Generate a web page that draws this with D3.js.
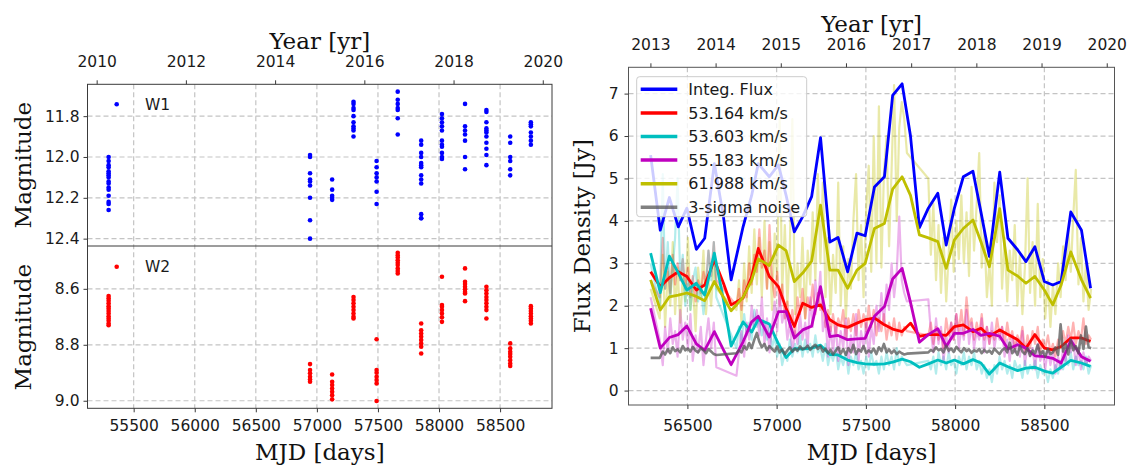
<!DOCTYPE html>
<html>
<head>
<meta charset="utf-8">
<script src="https://cdn.jsdelivr.net/npm/d3@7/dist/d3.min.js"></script>
<style>
  body { margin: 0; background: #fff; }
</style>
</head>
<body>
<div id="chart"></div>
<script>
// ---------- data: WISE photometry (left) ----------
const w1Epochs = [55295, 56944, 57125, 57300, 57489, 57662, 57854, 58024, 58213, 58388, 58583, 58752];
const w1Mags = [
  [12.00, 12.02, 12.04, 12.05, 12.07, 12.08, 12.09, 12.10, 12.12, 12.13, 12.15, 12.16, 12.19, 12.22, 12.23, 12.26],
  [11.99, 12.00, 12.08, 12.11, 12.12, 12.14, 12.20, 12.31, 12.40],
  [12.11, 12.16, 12.19, 12.20, 12.21],
  [11.73, 11.74, 11.76, 11.77, 11.80, 11.83, 11.85, 11.86, 11.87, 11.90],
  [12.02, 12.05, 12.08, 12.10, 12.12, 12.17, 12.23],
  [11.68, 11.72, 11.74, 11.76, 11.77, 11.81, 11.89],
  [11.92, 11.94, 11.98, 12.00, 12.03, 12.04, 12.05, 12.09, 12.11, 12.13, 12.28, 12.30, 12.30],
  [11.79, 11.81, 11.83, 11.85, 11.87, 11.92, 11.94, 11.95, 11.98, 12.00, 12.01],
  [11.74, 11.85, 11.87, 11.89, 11.92, 12.00, 12.06],
  [11.77, 11.78, 11.83, 11.86, 11.87, 11.88, 11.90, 11.93, 11.96, 11.99, 12.04],
  [11.90, 11.93, 12.00, 12.02, 12.06, 12.09],
  [11.83, 11.84, 11.85, 11.88, 11.90, 11.92, 11.94]
];
const w2Mags = [
  [8.626, 8.634, 8.643, 8.652, 8.662, 8.670, 8.679, 8.688, 8.698, 8.706, 8.714, 8.724, 8.730],
  [8.869, 8.890, 8.902, 8.914, 8.924, 8.932],
  [8.906, 8.932, 8.944, 8.956, 8.968, 8.980, 8.995],
  [8.629, 8.640, 8.652, 8.664, 8.676, 8.688, 8.700, 8.706],
  [8.780, 8.890, 8.900, 8.914, 8.926, 8.938, 9.001],
  [8.471, 8.480, 8.488, 8.498, 8.507, 8.515, 8.527, 8.536, 8.545],
  [8.724, 8.748, 8.760, 8.771, 8.783, 8.795, 8.807, 8.831],
  [8.557, 8.658, 8.664, 8.676, 8.688, 8.702, 8.718],
  [8.527, 8.575, 8.583, 8.593, 8.602, 8.611, 8.617, 8.644],
  [8.593, 8.605, 8.617, 8.629, 8.640, 8.652, 8.664, 8.676, 8.706],
  [8.795, 8.813, 8.825, 8.833, 8.843, 8.855, 8.867, 8.876],
  [8.662, 8.670, 8.679, 8.688, 8.698, 8.706, 8.714, 8.724]
];
const w1Ticks = [11.8, 12.0, 12.2, 12.4];
const w2Ticks = [8.6, 8.8, 9.0];
const leftMjdTicks = [55500, 56000, 56500, 57000, 57500, 58000, 58500];
const leftYears = [2010, 2012, 2014, 2016, 2018, 2020];

// ---------- data: maser flux (right), binned ----------
const epochs = [56294, 56348, 56399, 56449, 56497, 56550, 56597, 56651, 56702, 56745,
  56812, 56860, 56897, 56959, 57010, 57053, 57099, 57146, 57196, 57246,
  57298, 57344, 57398, 57450, 57496, 57548, 57604, 57650, 57703, 57750,
  57800, 57850, 57903, 57950, 57996, 58046, 58100, 58145, 58192, 58250,
  58296, 58350, 58397, 58447, 58500, 58547, 58594, 58648, 58708, 58759];
const integFlux = [5.55, 3.78, 4.55, 3.86, 4.30, 3.33, 3.59, 5.35, 4.10, 2.61,
  3.86, 4.60, 5.35, 5.04, 5.32, 4.60, 3.74, 4.10, 4.57, 5.96,
  3.50, 3.61, 2.80, 3.71, 3.65, 4.80, 5.04, 6.96, 7.23, 6.00,
  3.84, 4.30, 4.65, 3.43, 4.30, 5.04, 5.17, 4.20, 3.16, 5.15,
  3.59, 3.32, 3.04, 3.39, 2.57, 2.49, 2.57, 4.21, 3.78, 2.41];
const v53164 = [2.80, 2.45, 2.66, 2.80, 2.69, 2.37, 2.49, 3.08, 2.53, 2.02,
  2.18, 2.69, 3.35, 2.69, 2.45, 1.94, 1.51, 2.06, 1.96, 2.02,
  1.67, 1.55, 1.49, 1.59, 1.67, 1.71, 1.55, 1.45, 1.39, 1.59,
  1.28, 1.32, 1.32, 1.30, 1.51, 1.55, 1.39, 1.47, 1.28, 1.43,
  1.32, 1.20, 1.00, 1.32, 1.00, 0.96, 1.04, 1.24, 1.24, 1.16];
const v53603 = [3.24, 2.31, 3.17, 2.77, 2.37, 2.53, 2.25, 3.24, 2.14, 1.05,
  1.62, 1.38, 1.68, 1.57, 1.10, 0.78, 0.99, 0.98, 1.00, 1.07,
  0.85, 0.84, 0.72, 0.66, 0.63, 0.62, 0.63, 0.67, 0.74, 0.68,
  0.55, 0.63, 0.72, 0.65, 0.72, 0.63, 0.73, 0.65, 0.39, 0.65,
  0.56, 0.47, 0.53, 0.55, 0.46, 0.41, 0.55, 0.71, 0.65, 0.57];
const v55183 = [1.94, 1.00, 1.25, 1.32, 1.52, 1.10, 0.95, 1.39, 0.96, 0.61,
  1.15, 1.62, 1.75, 1.26, 1.86, 1.86, 1.24, 1.43, 1.52, 2.45,
  1.27, 1.30, 1.20, 1.22, 1.23, 1.75, 1.98, 2.63, 2.88, 2.08,
  1.14, 1.32, 1.46, 1.04, 1.35, 1.35, 1.44, 1.30, 1.35, 1.28,
  0.98, 1.08, 1.00, 0.82, 0.80, 0.76, 0.65, 1.18, 0.80, 0.69];
const v61988 = [2.61, 1.90, 2.21, 2.25, 2.30, 2.22, 2.12, 2.57, 2.20, 1.88,
  2.20, 2.60, 3.10, 2.95, 3.43, 3.30, 2.57, 2.77, 3.05, 4.37,
  2.84, 2.84, 2.41, 2.84, 3.00, 3.82, 3.94, 4.75, 5.04, 4.60,
  3.67, 3.60, 3.51, 2.88, 3.55, 3.82, 4.02, 3.50, 2.92, 4.29,
  2.84, 2.70, 2.53, 2.69, 2.37, 2.02, 2.49, 3.27, 2.61, 2.18];

// ---------- data: maser flux (right), every observation ----------
const denseEpochs = [56294, 56345, 56362, 56375, 56390, 56404, 56418, 56431, 56445, 56460, 56474, 56488,
  56503, 56517, 56530, 56546, 56560, 56575, 56590, 56604, 56618, 56633, 56648, 56662,
  56775, 56789, 56803, 56818, 56832, 56846, 56860, 56875, 56889, 56903, 56917, 56932,
  56946, 56960, 56974, 56989, 57003, 57017, 57031, 57046, 57060, 57074, 57088, 57103,
  57117, 57131, 57145, 57160, 57174, 57188, 57202, 57217, 57231, 57245, 57259, 57274,
  57288, 57302, 57316, 57331, 57345, 57359, 57373, 57388, 57402, 57416, 57430, 57445,
  57459, 57473, 57487, 57502, 57516, 57530, 57544, 57559, 57573, 57587, 57601, 57616,
  57630, 57644, 57658, 57673, 57687, 57701, 57715, 57730,
  57850, 57864, 57878, 57893, 57907, 57921, 57935, 57950, 57964, 57978, 57992, 58007,
  58021, 58035, 58049, 58064, 58078, 58092, 58106, 58121, 58135, 58149, 58163, 58178,
  58192, 58206, 58220, 58235, 58249, 58263, 58277, 58292, 58306, 58320, 58334, 58349,
  58363, 58377, 58391, 58406, 58420, 58434, 58448, 58463, 58477, 58491, 58505, 58520,
  58534, 58548, 58562, 58577, 58591, 58605, 58619, 58634, 58648, 58662, 58676, 58691,
  58705, 58719, 58733, 58748, 58762];
const noise3sig = [0.77, 0.77, 0.92, 0.85, 0.98, 0.88, 1.02, 0.93, 0.97, 0.90, 1.05, 0.95,
  0.99, 0.92, 1.03, 0.94, 0.90, 1.00, 0.95, 0.88, 0.98, 0.92, 0.86, 0.84,
  0.88, 0.95, 0.90, 1.05, 0.97, 1.12, 1.00, 1.20, 1.36, 1.15, 1.02, 1.10,
  0.95, 1.05, 0.98, 0.92, 1.04, 0.90, 0.97, 0.86, 0.95, 1.02, 0.92, 0.99,
  0.94, 1.04, 0.97, 1.00, 1.06, 0.96, 1.03, 1.08, 0.98, 1.05, 0.92, 0.99,
  0.88, 0.96, 0.85, 0.94, 1.02, 0.87, 0.98, 0.84, 1.00, 0.90, 1.08, 0.86,
  0.97, 0.92, 1.05, 0.88, 0.95, 0.90, 0.99, 0.86, 1.02, 0.93, 1.10, 0.90,
  0.97, 0.88, 0.95, 0.86, 0.92, 0.88, 0.85, 0.87,
  0.90, 0.96, 0.92, 1.02, 0.95, 0.98, 0.90, 1.06, 0.94, 0.99, 0.91, 1.03,
  0.96, 0.90, 1.00, 0.93, 0.97, 0.89, 0.95, 0.92, 0.98, 0.88, 0.96, 0.90,
  0.94, 0.87, 0.99, 0.92, 0.86, 0.95, 1.00, 0.90, 1.13, 0.88, 0.97, 0.84,
  1.05, 0.92, 0.86, 1.00, 0.82, 0.95, 0.88, 1.08, 0.85, 0.93, 0.80, 0.98,
  0.86, 0.90, 1.02, 0.84, 1.56, 0.92, 1.10, 0.85, 1.20, 0.95, 1.05, 0.88,
  1.30, 0.98, 1.51, 1.02, 1.00];
const raw53164 = [2.6, 2.2, 3.6, 2.4, 2.9, 2.3, 3.2, 2.5, 3.0, 2.6, 3.1, 2.4,
  2.9, 2.2, 2.7, 2.1, 2.6, 2.3, 2.8, 2.5, 3.3, 2.7, 3.5, 2.6,
  2.0, 2.4, 1.9, 2.6, 2.2, 3.0, 2.5, 3.2, 2.8, 3.8, 2.9, 3.3,
  2.4, 3.9, 2.6, 2.2, 2.8, 2.0, 2.5, 1.7, 2.1, 1.5, 1.9, 1.3,
  2.2, 1.8, 2.4, 1.7, 2.2, 1.9, 2.5, 1.8, 2.3, 1.9, 2.1, 1.5,
  1.9, 1.4, 1.8, 1.3, 1.7, 1.5, 1.9, 1.2, 1.7, 1.4, 1.8, 1.3,
  1.9, 1.5, 1.8, 1.4, 2.0, 1.5, 1.9, 1.3, 1.7, 1.4, 1.8, 1.2,
  1.6, 1.3, 1.7, 1.2, 1.6, 1.3, 1.5, 1.4,
  1.3, 1.6, 1.1, 1.5, 1.2, 1.4, 1.0, 1.7, 1.3, 1.6, 1.2, 1.8,
  1.4, 1.9, 1.3, 2.2, 1.5, 1.7, 1.2, 1.6, 1.3, 1.8, 1.2, 1.5,
  1.1, 1.4, 1.2, 1.7, 1.3, 1.5, 1.1, 1.6, 1.2, 1.4, 1.0, 1.3,
  1.1, 1.5, 0.9, 1.3, 1.0, 1.4, 1.1, 1.5, 0.9, 1.2, 1.0, 1.3,
  0.9, 1.1, 0.8, 1.2, 1.0, 1.4, 1.1, 1.5, 1.2, 1.6, 1.1, 1.4,
  1.2, 1.7, 1.1, 1.3, 1.2];
const raw53603 = [3.0, 2.0, 5.1, 2.4, 3.5, 2.2, 2.9, 3.6, 5.0, 2.6, 3.2, 2.0,
  2.7, 1.9, 2.6, 2.9, 2.1, 2.5, 1.8, 2.4, 3.3, 2.6, 3.5, 2.2,
  1.0, 1.5, 1.1, 1.8, 1.3, 1.6, 1.2, 1.9, 1.5, 1.7, 1.3, 1.6,
  1.2, 1.5, 1.0, 1.3, 0.8, 1.1, 0.6, 0.9, 0.7, 1.2, 0.8, 1.1,
  0.9, 1.3, 0.8, 1.2, 0.9, 1.1, 0.8, 1.3, 0.9, 1.0, 0.7, 1.1,
  0.6, 0.9, 0.7, 1.0, 0.5, 0.8, 0.6, 0.9, 0.4, 0.8, 0.6, 0.9,
  0.5, 0.7, 0.4, 0.8, 0.5, 0.9, 0.6, 0.7, 0.4, 0.8, 0.5, 0.9,
  0.6, 0.8, 0.5, 1.0, 0.6, 0.8, 0.7, 0.6,
  0.7, 0.5, 0.8, 0.4, 0.9, 0.6, 0.8, 0.5, 0.9, 0.6, 0.7, 0.4,
  0.8, 0.6, 0.9, 0.5, 0.8, 0.6, 0.9, 0.5, 0.7, 0.4, 0.6, 0.3,
  0.5, 0.2, 0.6, 0.4, 0.8, 0.5, 0.7, 0.4, 0.6, 0.3, 0.7, 0.5,
  0.6, 0.3, 0.7, 0.4, 0.6, 0.5, 0.7, 0.3, 0.6, 0.4, 0.5, 0.2,
  0.5, 0.3, 0.6, 0.4, 0.7, 0.5, 0.8, 0.6, 0.9, 0.5, 0.8, 0.6,
  0.7, 0.5, 0.8, 0.4, 0.6];
const raw55183 = [2.2, 1.2, 0.6, 1.5, 0.9, 1.7, 1.1, 1.4, 0.8, 1.9, 1.2, 1.6,
  1.0, 1.8, 0.7, 1.3, 0.9, 1.5, 0.6, 1.2, 1.7, 1.0, 1.6, 0.55,
  0.35, 0.9, 1.4, 0.8, 1.6, 1.2, 2.0, 1.5, 1.9, 1.3, 2.2, 1.1,
  1.7, 0.9, 1.5, 2.1, 1.4, 2.3, 1.6, 1.9, 1.2, 1.6, 0.9, 1.4,
  1.1, 1.8, 1.2, 1.6, 1.0, 2.2, 1.5, 2.6, 2.0, 2.8, 1.4, 1.7,
  0.8, 1.5, 0.9, 1.6, 0.7, 1.4, 1.0, 1.7, 0.6, 1.3, 0.9, 1.8,
  0.7, 1.4, 1.0, 1.6, 0.8, 1.5, 1.1, 2.0, 1.4, 2.3, 1.6, 2.5,
  1.9, 3.0, 2.2, 2.8, 4.1, 2.6, 2.3, 2.1,
  2.15, 1.4, 0.9, 1.7, 1.1, 1.5, 0.7, 1.3, 0.9, 1.6, 1.2, 1.8,
  1.0, 1.5, 1.2, 1.9, 1.1, 1.6, 1.0, 1.4, 1.2, 1.7, 0.9, 1.5,
  1.1, 1.6, 1.0, 1.4, 1.2, 1.5, 0.8, 1.2, 0.7, 1.3, 0.9, 1.2,
  0.8, 1.4, 0.6, 1.1, 0.8, 1.0, 0.5, 1.1, 0.7, 0.9, 0.5, 1.0,
  0.6, 0.9, 0.4, 0.8, 0.5, 1.0, 0.7, 1.3, 0.9, 1.2, 0.6, 1.0,
  0.5, 0.9, 0.6, 0.8, 0.7];
const raw61988 = [2.4, 1.7, 3.2, 1.5, 2.8, 2.0, 3.5, 1.8, 2.9, 1.6, 2.7, 2.1,
  3.6, 1.9, 2.5, 1.4, 2.9, 2.2, 3.3, 1.8, 2.6, 2.0, 3.0, 2.4,
  1.9, 2.6, 1.6, 3.0, 2.1, 3.4, 2.3, 3.8, 2.5, 3.6, 2.2, 4.0,
  2.4, 3.5, 1.9, 3.7, 2.6, 6.45, 2.3, 3.9, 2.0, 3.4, 6.4, 1.8,
  3.0, 2.2, 3.6, 1.7, 3.3, 2.5, 4.2, 2.6, 5.1, 3.0, 4.9, 2.2,
  3.6, 1.8, 3.2, 2.3, 4.9, 2.0, 3.4, 1.7, 3.1, 2.4, 4.0, 5.1,
  2.6, 3.9, 2.2, 4.3, 5.3, 2.8, 6.0, 3.0, 6.7, 2.9, 5.1, 6.0,
  3.4, 5.2, 7.2, 4.0, 6.2, 6.8, 6.4, 5.6,
  5.0, 3.2, 4.4, 2.6, 3.9, 2.3, 3.6, 2.1, 3.2, 4.5, 2.8, 4.0,
  3.1, 4.6, 3.0, 4.2, 2.7, 4.8, 3.3, 4.4, 5.6, 2.9, 3.8, 2.2,
  3.0, 2.0, 4.9, 3.5, 4.6, 2.4, 3.6, 2.1, 3.3, 2.6, 3.9, 2.0,
  3.2, 1.8, 2.9, 5.0, 2.3, 3.5, 2.0, 4.4, 2.2, 3.1, 1.7, 2.6,
  1.5, 2.5, 1.8, 3.0, 2.2, 3.4, 2.6, 3.8, 2.8, 4.1, 5.2, 2.5,
  3.6, 2.1, 3.0, 1.9, 2.4];
const fluxTicks = [0, 1, 2, 3, 4, 5, 6, 7];
const rightMjdTicks = [56500, 57000, 57500, 58000, 58500];
const rightYears = [2013, 2014, 2015, 2016, 2017, 2018, 2019, 2020];
const seriesNames = ["Integ. Flux", "53.164 km/s", "53.603 km/s", "55.183 km/s", "61.988 km/s", "3-sigma noise"];
const seriesColors = ["#0000ff", "#ff0000", "#00bfbf", "#bf00bf", "#bfbf00", "#555555"];

// ---------- setup ----------
const W = 1135, H = 466;
const sans = "'DejaVu Sans', sans-serif";
const serif = "'DejaVu Serif', serif";
const gridColor = "#c4c4c4";
const spineColor = "#3a3a3a";

const svg = d3.select("#chart").append("svg")
  .attr("width", W)
  .attr("height", H)
  .style("background", "#fff");

// MJD of 1 Jan of a year
function yearToMjd(y) {
  return 51544.5 + (y - 2000) * 365.25;
}

function hGrid(scale, vals, x0, x1) {
  svg.append("g").selectAll("line").data(vals).enter().append("line")
    .attr("x1", x0).attr("x2", x1)
    .attr("y1", d => scale(d)).attr("y2", d => scale(d))
    .attr("stroke", gridColor).attr("stroke-width", 1.2).attr("stroke-dasharray", "5,3");
}

function vGrid(scale, vals, y0, y1) {
  svg.append("g").selectAll("line").data(vals).enter().append("line")
    .attr("y1", y0).attr("y2", y1)
    .attr("x1", d => scale(d)).attr("x2", d => scale(d))
    .attr("stroke", gridColor).attr("stroke-width", 1.2).attr("stroke-dasharray", "5,3");
}

function styleAxis(g) {
  g.select(".domain").remove();
  g.selectAll(".tick line").attr("stroke", spineColor).attr("stroke-width", 1);
  g.selectAll(".tick text")
    .attr("font-family", sans)
    .attr("font-size", 15.5)
    .attr("fill", "#1a1a1a");
}

function serifLabel(x, y, txt, rotate) {
  svg.append("text")
    .attr("transform", `translate(${x},${y})` + (rotate ? " rotate(-90)" : ""))
    .attr("text-anchor", "middle")
    .attr("font-family", serif)
    .attr("font-size", 23)
    .attr("fill", "#111")
    .text(txt);
}

// ================= left panel: W1 / W2 =================
const L = { x0: 87.5, x1: 552, top: 84.3, mid: 246, bot: 408.3 };
const lx = d3.scaleLinear().domain([55122, 58925]).range([L.x0, L.x1]);
const ly1 = d3.scaleLinear().domain([11.644, 12.436]).range([L.top, L.mid]);
const ly2 = d3.scaleLinear().domain([8.447, 9.027]).range([L.mid, L.bot]);

// grids
hGrid(ly1, w1Ticks, L.x0, L.x1);
hGrid(ly2, w2Ticks, L.x0, L.x1);
vGrid(lx, leftMjdTicks, L.top, L.bot);

// points
const w1Pts = [];
w1Epochs.forEach((m, i) => w1Mags[i].forEach(v => w1Pts.push([m, v])));
const w2Pts = [];
w1Epochs.forEach((m, i) => w2Mags[i].forEach(v => w2Pts.push([m, v])));

svg.append("g").selectAll("circle").data(w1Pts).enter().append("circle")
  .attr("cx", d => lx(d[0])).attr("cy", d => ly1(d[1])).attr("r", 2.3)
  .attr("fill", "#0000ff");
svg.append("g").selectAll("circle").data(w2Pts).enter().append("circle")
  .attr("cx", d => lx(d[0])).attr("cy", d => ly2(d[1])).attr("r", 2.3)
  .attr("fill", "#ff0000");

// frames
svg.append("rect").attr("x", L.x0).attr("y", L.top)
  .attr("width", L.x1 - L.x0).attr("height", L.bot - L.top)
  .attr("fill", "none").attr("stroke", spineColor).attr("stroke-width", 1);
svg.append("line").attr("x1", L.x0).attr("x2", L.x1)
  .attr("y1", L.mid).attr("y2", L.mid)
  .attr("stroke", spineColor).attr("stroke-width", 1);

// axes
styleAxis(svg.append("g").attr("transform", `translate(${L.x0},0)`)
  .call(d3.axisLeft(ly1).tickValues(w1Ticks).tickFormat(d3.format(".1f"))
    .tickSizeInner(4).tickSizeOuter(0).tickPadding(4)));
styleAxis(svg.append("g").attr("transform", `translate(${L.x0},0)`)
  .call(d3.axisLeft(ly2).tickValues(w2Ticks).tickFormat(d3.format(".1f"))
    .tickSizeInner(4).tickSizeOuter(0).tickPadding(4)));
styleAxis(svg.append("g").attr("transform", `translate(0,${L.bot})`)
  .call(d3.axisBottom(lx).tickValues(leftMjdTicks).tickFormat(d3.format("d"))
    .tickSizeInner(4).tickSizeOuter(0).tickPadding(7.5)));
styleAxis(svg.append("g").attr("transform", `translate(0,${L.top})`)
  .call(d3.axisTop(lx).tickValues(leftYears.map(yearToMjd))
    .tickFormat((d, i) => leftYears[i])
    .tickSizeInner(4).tickSizeOuter(0).tickPadding(13.5)));

// legends
svg.append("circle").attr("cx", 116.7).attr("cy", 104.3).attr("r", 2.3).attr("fill", "#0000ff");
svg.append("text").attr("x", 145).attr("y", 110).attr("font-family", sans)
  .attr("font-size", 15.5).attr("fill", "#1a1a1a").text("W1");
svg.append("circle").attr("cx", 116.7).attr("cy", 266.7).attr("r", 2.3).attr("fill", "#ff0000");
svg.append("text").attr("x", 145).attr("y", 272.4).attr("font-family", sans)
  .attr("font-size", 15.5).attr("fill", "#1a1a1a").text("W2");

// labels
serifLabel((L.x0 + L.x1) / 2, 48.5, "Year [yr]");
serifLabel((L.x0 + L.x1) / 2, 460, "MJD [days]");
serifLabel(31, (L.top + L.mid) / 2, "Magnitude", true);
serifLabel(31, (L.mid + L.bot) / 2, "Magnitude", true);

// ================= right panel: maser flux =================
const R = { x0: 628.5, x1: 1114.5, top: 67.3, bot: 405 };
const rx = d3.scaleLinear().domain([56170, 58893]).range([R.x0, R.x1]);
const ry = d3.scaleLinear().domain([-0.34, 7.62]).range([R.bot, R.top]);

hGrid(ry, fluxTicks, R.x0, R.x1);
vGrid(rx, rightMjdTicks, R.top, R.bot);

svg.append("clipPath").attr("id", "rclip").append("rect")
  .attr("x", R.x0).attr("y", R.top).attr("width", R.x1 - R.x0).attr("height", R.bot - R.top);
const plot = svg.append("g").attr("clip-path", "url(#rclip)");

const line = d3.line().x(d => rx(d[0])).y(d => ry(d[1]));
const zipWith = (xs, ys) => xs.slice(0, ys.length).map((x, i) => [x, ys[i]]);

// individual observations (faint)
const rawSeries = [
  { vals: raw61988, color: seriesColors[4], op: 0.34 },
  { vals: raw53164, color: seriesColors[1], op: 0.3 },
  { vals: raw53603, color: seriesColors[2], op: 0.3 },
  { vals: raw55183, color: seriesColors[3], op: 0.3 }
];
rawSeries.forEach(s => {
  plot.append("path")
    .datum(zipWith(denseEpochs, s.vals))
    .attr("d", line)
    .attr("fill", "none")
    .attr("stroke", s.color)
    .attr("stroke-width", 2.2)
    .attr("stroke-opacity", s.op)
    .attr("stroke-linejoin", "round");
});

// binned curves (bold)
const boldSeries = [integFlux, v53164, v53603, v55183, v61988];
boldSeries.forEach((vals, i) => {
  plot.append("path")
    .datum(zipWith(epochs, vals))
    .attr("d", line)
    .attr("fill", "none")
    .attr("stroke", seriesColors[i])
    .attr("stroke-width", 2.8)
    .attr("stroke-linejoin", "round");
});

// noise
plot.append("path")
  .datum(zipWith(denseEpochs, noise3sig))
  .attr("d", line)
  .attr("fill", "none")
  .attr("stroke", seriesColors[5])
  .attr("stroke-width", 2.6)
  .attr("stroke-opacity", 0.75)
  .attr("stroke-linejoin", "round");

// frame
svg.append("rect").attr("x", R.x0).attr("y", R.top)
  .attr("width", R.x1 - R.x0).attr("height", R.bot - R.top)
  .attr("fill", "none").attr("stroke", "#555").attr("stroke-width", 1);

// axes
styleAxis(svg.append("g").attr("transform", `translate(${R.x0},0)`)
  .call(d3.axisLeft(ry).tickValues(fluxTicks).tickFormat(d3.format("d"))
    .tickSizeInner(4).tickSizeOuter(0).tickPadding(6)));
styleAxis(svg.append("g").attr("transform", `translate(0,${R.bot})`)
  .call(d3.axisBottom(rx).tickValues(rightMjdTicks).tickFormat(d3.format("d"))
    .tickSizeInner(4).tickSizeOuter(0).tickPadding(11)));
styleAxis(svg.append("g").attr("transform", `translate(0,${R.top})`)
  .call(d3.axisTop(rx).tickValues(rightYears.map(yearToMjd))
    .tickFormat((d, i) => rightYears[i])
    .tickSizeInner(4).tickSizeOuter(0).tickPadding(13.5)));

// legend
const lg = svg.append("g").attr("transform", "translate(636.7,76.7)");
lg.append("rect").attr("width", 170).attr("height", 140).attr("rx", 3)
  .attr("fill", "#fff").attr("fill-opacity", 0.8)
  .attr("stroke", "#cccccc").attr("stroke-width", 1);
seriesNames.forEach((name, i) => {
  const yy = 12.6 + i * 23.6;
  lg.append("line").attr("x1", 4).attr("x2", 40.6).attr("y1", yy).attr("y2", yy)
    .attr("stroke", seriesColors[i]).attr("stroke-width", 3.5)
    .attr("stroke-opacity", i === 5 ? 0.75 : 1);
  lg.append("text").attr("x", 51.6).attr("y", yy + 5.8)
    .attr("font-family", sans).attr("font-size", 16).attr("fill", "#1a1a1a")
    .text(name);
});

// labels
serifLabel((R.x0 + R.x1) / 2, 31.5, "Year [yr]");
serifLabel((R.x0 + R.x1) / 2, 460, "MJD [days]");
serifLabel(590, (R.top + R.bot) / 2, "Flux Density [Jy]", true);
</script>
</body>
</html>
